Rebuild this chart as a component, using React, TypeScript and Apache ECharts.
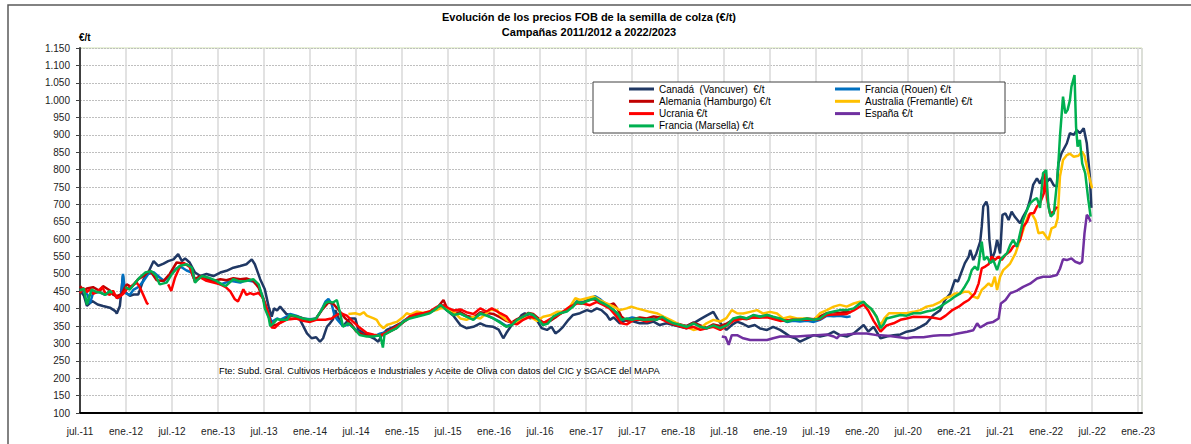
import React, { useEffect, useRef } from 'react';
import * as echarts from 'echarts';

// x value = months elapsed since July 2011 (0 = jul.-11, 138 = ene.-23)
const xTickMonths = { min: 0, max: 138.5, step: 6 };
const yTicks = { min: 100, max: 1150, step: 50 };

const titleLines = [
  'Evolución de los precios FOB de la semilla de colza (€/t)',
  'Campañas 2011/2012 a 2022/2023',
];
const unitLabel = '€/t';
const sourceNote =
  'Fte: Subd. Gral. Cultivos Herbáceos e Industriales y Aceite de Oliva con datos del CIC y SGACE del MAPA';

const canada: [number, number | null][] = [
  [0,452],[0.5,438],[0.9,408],[1.6,422],[2.3,412],[3,408],[3.9,403],[4.6,393],[4.8,386],[5.2,408],[5.6,495],[5.8,450],[6.5,437],[7,441],[7.6,441],[8.3,485],[8.9,504],[9.6,537],[10.2,523],[10.9,530],[11.5,537],[12.2,542],[12.8,557],[13.3,537],[13.7,545],[14.3,533],[15,504],[15.7,494],[16.5,500],[17.4,494],[18.3,504],[19.1,509],[20,518],[20.9,523],[21.7,528],[22.4,542],[22.8,528],[23.5,485],[24.1,456],[24.6,406],[25,377],[25.3,401],[25.7,395],[26.1,406],[26.9,385],[27.4,382],[28.2,377],[28.7,368],[29.6,329],[30.2,315],[30.8,318],[31.3,305],[31.7,315],[32.2,348],[32.6,358],[33,370],[33.3,396],[33.9,363],[34.3,350],[35.2,372],[35.9,372],[36.3,339],[36.7,334],[37.4,324],[38.3,315],[38.9,305],[39.3,322],[40,339],[40.9,348],[42.2,363],[43,377],[43.9,382],[45.2,387],[46.5,401],[47,411],[47.8,396],[48.7,380],[49.6,353],[50.4,344],[51.3,348],[52.2,358],[53,350],[53.9,348],[54.6,340],[55.2,315],[55.6,330],[56.3,353],[57,363],[57.6,382],[58,387],[58.7,372],[59.3,377],[60.2,344],[60.9,339],[61.5,348],[62,329],[62.4,335],[63,348],[63.7,368],[64.3,382],[65.2,387],[66.1,396],[66.7,392],[67.4,401],[68,396],[68.7,382],[69.1,368],[69.6,375],[70.4,358],[71.3,368],[72.2,363],[73,358],[74,358],[74.8,363],[75.6,353],[76.5,358],[77.4,353],[78.3,348],[79.1,344],[80,358],[80.9,370],[81.7,380],[82.6,391],[83.2,368],[83.9,348],[84.3,339],[85,353],[85.7,363],[86.5,356],[87.2,348],[88,353],[88.7,343],[89.6,339],[90.4,348],[91.3,339],[92,329],[92.6,320],[93.3,315],[93.9,305],[94.8,315],[95.7,324],[96.5,320],[97.4,324],[98.3,334],[99.1,324],[100,320],[100.9,329],[101.7,344],[102.2,353],[102.8,334],[103.5,348],[104.4,315],[105.2,320],[106.1,324],[107,326],[107.8,334],[108.7,338],[109.6,348],[110.4,358],[111.3,382],[112.2,396],[112.8,425],[113.5,444],[114.1,483],[114.5,478],[114.9,502],[115.4,531],[115.9,550],[116.1,569],[116.5,540],[116.9,559],[117.4,593],[117.6,636],[117.8,694],[118.2,708],[118.4,694],[118.6,598],[118.9,540],[119.3,564],[119.6,598],[120,559],[120.3,670],[120.7,674],[121.1,655],[121.5,679],[121.9,665],[122.6,646],[123,665],[123.5,684],[123.9,713],[124.3,756],[124.8,775],[125.2,760],[125.6,780],[126.1,765],[126.5,775],[127,755],[127.4,751],[127.6,818],[128,847],[128.7,876],[129.1,905],[129.6,900],[130,914],[130.4,905],[130.9,919],[131.3,876],[131.7,780],[131.9,690],
];

const franciaRouen: [number, number | null][] = [
  [0,455],[0.5,450],[1,440],[1.3,415],[1.7,445],[2.5,448],[3.3,440],[3.9,450],[4.4,440],[5,430],[5.4,445],[5.6,500],[5.9,445],[6.5,440],[7,455],[7.6,462],[8.3,480],[8.9,500],[9.6,505],[10.4,490],[11,480],[11.7,495],[12.5,515],[13.2,520],[13.9,510],[14.5,505],[15,480],[15.7,494],[16.5,485],[17.4,480],[18.3,470],[19,475],[19.8,480],[20.9,475],[21.7,482],[22.6,478],[23.2,470],[23.9,430],[24.6,385],[25,362],[25.7,372],[26.1,368],[27,378],[27.4,385],[28.2,380],[29.1,372],[30,370],[30.8,372],[31.5,396],[32,420],[32.4,428],[32.8,415],[33.2,380],[33.5,370],[34.3,350],[35.2,355],[35.7,344],[36.5,330],[37.4,322],[38.3,320],[39.1,328],[40,333],[40.4,336],[41.3,345],[42.2,365],[43,376],[43.9,378],[44.8,385],[45.6,388],[46.5,400],[47,412],[47.8,398],[48.7,384],[49.6,386],[50.4,378],[51.3,370],[52.2,385],[53,382],[53.9,372],[54.8,362],[55.6,350],[56.3,355],[57,368],[57.8,378],[58.5,385],[59.1,380],[59.8,368],[60.4,355],[61.3,365],[62,378],[62.6,388],[63.5,395],[64.3,408],[64.8,422],[65.4,418],[65.9,422],[66.5,428],[67.2,436],[67.8,428],[68.3,418],[69,405],[69.6,396],[70.2,378],[70.6,368],[71.3,370],[72,375],[72.6,372],[73.5,368],[74.3,370],[75.2,372],[75.9,378],[76.7,365],[77.4,360],[78.3,353],[79.1,350],[80,360],[80.9,350],[81.7,343],[82.6,352],[83.5,350],[84.3,355],[85.2,370],[86.1,375],[87,372],[87.8,380],[88.7,378],[89.6,382],[90.4,375],[91.3,370],[92.2,362],[93,365],[93.9,363],[94.8,365],[95.7,362],[96.5,368],[97.4,380],[98.3,378],[99.1,380],[100,376],[100.5,378],
];

const alemania: [number, number | null][] = [
  [0,465],[0.5,452],[0.9,458],[1.7,462],[2.6,451],[3,465],[3.5,458],[3.9,452],[4.3,441],[4.8,437],[5.4,441],[6.1,470],[6.7,462],[7.6,485],[8.3,494],[9.1,509],[9.6,495],[10,482],[10.9,480],[11.7,500],[12.6,533],[13.5,530],[14.3,523],[15,485],[15.7,494],[16.5,485],[17.4,480],[18.3,485],[19.1,482],[20,488],[20.9,485],[21.7,487],[22.6,480],[23.3,460],[23.9,427],[24.6,377],[25,350],[25.7,355],[26.5,365],[27.4,378],[28.2,378],[29.1,372],[30,365],[30.8,372],[31.5,395],[32.4,418],[33,415],[33.9,392],[34.6,372],[35.3,358],[36,335],[37,325],[38,322],[39,322],[40,330],[41.3,345],[42.2,362],[43,375],[43.9,380],[44.8,385],[45.6,390],[46.5,400],[47.4,425],[47.9,400],[48.7,388],[49.6,390],[50.4,380],[51.3,375],[52.2,390],[53,388],[53.9,385],[54.8,375],[55.6,365],[56.3,360],[57,370],[57.8,378],[58.5,388],[59.1,385],[59.8,372],[60.4,360],[61.3,365],[62,375],[62.6,385],[63.5,395],[64.3,410],[64.8,418],[65.4,415],[66,422],[66.7,428],[67.4,425],[68.3,418],[69,410],[69.6,415],[70.1,400],[70.6,378],[71.3,365],[72.2,370],[73,375],[73.9,372],[74.8,378],[75.6,375],[76.5,368],[77.4,360],[78.3,355],[79.1,350],[80,360],[80.9,352],[81.7,345],[82.6,355],[83.5,350],[84.4,358],[85.2,368],[86.1,372],[87,370],[87.8,375],[88.7,375],[89.6,380],[90.4,372],[91.3,368],[92.2,365],[93,370],[93.9,368],[94.8,372],[95.7,370],[96.5,378],[97.4,387],[98.3,390],[99.1,388],[100,392],[100.5,390],
];

const australia: [number, number | null][] = [
  [35,385],[35.9,387],[36.5,383],[37,390],[37.4,380],[38.3,372],[38.7,368],[39.1,353],[39.6,344],[40,353],[40.7,358],[41.3,362],[42.2,377],[42.6,387],[43.1,383],[43.9,392],[44.8,388],[45.6,392],[46.5,396],[47,401],[47.8,401],[48.7,392],[49.6,372],[50.4,368],[51.3,377],[52.2,372],[53.5,396],[54.4,396],[54.8,382],[55.6,368],[56.5,358],[57.4,368],[58.7,377],[59.6,365],[60.4,377],[61.3,381],[62.2,391],[63,391],[63.9,406],[64.6,430],[65.2,425],[66.1,430],[67,435],[67.8,425],[68.7,415],[69.6,406],[70.4,396],[71.3,401],[71.9,406],[72.6,401],[73.5,396],[74.3,391],[75.2,387],[76.1,377],[77,368],[78.3,353],[79.1,348],[80,339],[80.9,344],[81.7,358],[82.6,368],[83.5,363],[84.3,373],[85,396],[85.7,387],[86.5,386],[87.4,391],[88.3,396],[89.1,386],[90,391],[90.9,386],[91.7,372],[92.6,377],[93.5,372],[94.4,372],[95.7,368],[96.5,387],[97.4,396],[98.3,406],[99.1,411],[100,406],[100.9,415],[101.7,420],[102.2,418],[102.6,411],[103.5,391],[104.4,353],[104.9,372],[105.5,387],[106.1,387],[107,387],[107.8,387],[108.7,391],[109.6,396],[110.4,406],[111.3,410],[112.2,420],[112.8,430],[113.5,435],[114.1,444],[114.8,444],[115.4,449],[115.9,449],[116.5,435],[117.1,430],[117.6,454],[118.1,464],[118.5,473],[118.9,464],[119.3,492],[119.6,454],[120,492],[120.4,511],[120.9,521],[121.3,530],[122,559],[122.6,598],[123.3,646],[123.7,670],[124.1,674],[124.6,655],[125,617],[125.6,620],[126.3,598],[126.7,631],[127.2,636],[127.5,660],[127.8,780],[128.2,828],[128.7,842],[129.1,846],[129.6,837],[130.2,840],[130.7,852],[131,840],[131.3,809],[131.6,780],[132,746],
];

const ucrania: [number, number | null][] = [
  [0,445],[0.4,460],[0.9,448],[1.3,455],[1.7,443],[2.2,448],[2.9,462],[3.3,445],[3.9,440],[4.3,452],[4.8,430],[5.2,435],[5.6,442],[6.1,456],[6.7,465],[7.4,475],[7.8,462],[8.3,437],[8.7,417],[8.9,412],[10,null],
  [11.5,470],[11.9,451],[12.4,490],[13,520],[13.5,532],[14.3,520],[15,478],[15.7,490],[16.5,480],[17.4,475],[18.3,470],[19,462],[19.6,450],[20.2,427],[20.6,421],[21,440],[21.3,456],[21.7,440],[22.2,445],[22.6,441],[23.3,445],[23.9,430],[24.6,385],[25,346],[25.4,345],[26,358],[26.9,368],[27.4,370],[28.2,372],[29.1,365],[30,362],[30.8,368],[31.3,368],[32,368],[32.8,372],[33.5,382],[34,387],[34.8,380],[35.5,365],[36.5,345],[37.4,330],[38.3,325],[39.1,322],[40,332],[41,345],[42.2,362],[43,378],[43.9,385],[44.8,388],[45.6,392],[46.5,405],[47.4,410],[48.2,400],[48.7,395],[49.6,398],[50.4,390],[51.3,385],[52.2,401],[53,392],[53.7,401],[54.8,387],[55.6,378],[56.3,358],[57,355],[57.8,368],[58.7,377],[59.6,372],[60.4,358],[61.3,370],[62.6,385],[63.9,406],[64.8,415],[65.6,415],[66.5,410],[67.4,420],[68.3,410],[69.1,400],[70,377],[70.6,358],[71.3,355],[72.2,368],[73,368],[73.9,363],[74.8,368],[75.6,372],[76.5,363],[77.7,353],[79.1,344],[80,348],[80.9,339],[81.7,344],[82.6,348],[83.5,339],[84.3,350],[85.2,365],[86.5,372],[87.8,375],[89.6,375],[91.3,365],[93,368],[94.8,368],[96.5,370],[97.4,382],[98.3,383],[99.1,384],[100,385],[100.9,395],[101.7,406],[102.2,412],[102.8,395],[103.5,365],[104.4,334],[105.2,352],[106.1,358],[107,368],[107.8,372],[108.7,377],[109.6,376],[110.4,376],[111.3,374],[112.2,370],[112.9,380],[113.7,395],[114.6,406],[115.2,416],[115.9,425],[116.7,444],[117.2,473],[117.6,516],[118.1,522],[118.5,528],[118.9,550],[119.3,540],[119.8,550],[120.2,540],[120.7,555],[121.3,565],[121.7,579],[122.2,585],[122.6,598],[123,636],[123.5,650],[123.9,674],[124.4,675],[124.8,694],[125.2,704],[125.7,732],[125.9,790],[126.1,720],[126.5,674],[127,679],[127.4,694],
];

const espana: [number, number | null][] = [
  [83.7,320],[84.2,318],[84.6,296],[85,324],[85.7,324],[86.5,315],[87.4,310],[88.3,310],[89.6,310],[90.4,315],[91.3,320],[92.2,320],[93.5,320],[94.8,322],[96.1,324],[97.4,326],[98.3,320],[98.7,315],[99.1,324],[100,326],[101.3,329],[102.6,329],[103.9,324],[104.4,324],[105.3,322],[106.1,320],[107.8,315],[108.7,318],[110,318],[111.3,322],[112.2,324],[113.5,324],[114.3,328],[115.7,334],[116.5,338],[117,358],[117.4,346],[118.3,358],[119.1,362],[119.8,372],[120.1,415],[120.7,425],[121.3,444],[122.2,452],[123,463],[123.9,472],[124.8,487],[125.6,492],[126.5,492],[127.4,497],[127.8,515],[128.2,542],[128.7,540],[129.3,545],[129.8,535],[130.4,530],[130.7,535],[131,617],[131.3,670],[131.5,665],[131.8,650],
];

const franciaMarsella: [number, number | null][] = [
  [0,452],[0.5,458],[0.9,412],[1.3,440],[1.5,455],[2.2,448],[2.6,447],[3.3,440],[3.9,451],[4.2,445],[5,null],[5.9,462],[6.5,455],[7.2,475],[7.8,490],[8.5,504],[9.3,508],[9.9,495],[10.4,470],[11.3,475],[12,500],[12.6,515],[13,523],[13.9,528],[14.6,518],[15,475],[15.4,485],[15.9,494],[16.7,490],[17.8,480],[18.5,470],[19,465],[20,485],[20.9,478],[21.7,480],[22.6,485],[23.3,470],[23.9,427],[24.1,401],[24.6,375],[24.8,350],[25.3,360],[25.7,370],[26.1,368],[27,368],[27.4,382],[28.2,378],[29.1,372],[30,368],[30.8,372],[31.5,396],[32,416],[32.4,420],[33,418],[33.5,425],[33.9,390],[34.3,348],[35,358],[35.7,344],[36.5,324],[37.4,320],[38.3,320],[39.1,324],[39.4,300],[39.5,288],[39.7,325],[40.4,334],[41.3,344],[42.2,363],[43,372],[43.9,377],[44.8,382],[45.6,387],[46.5,401],[47,411],[47.8,396],[48.7,382],[49.6,386],[50.4,377],[51.3,368],[52.2,387],[53,380],[53.9,372],[54.8,360],[55.6,348],[56.3,353],[57,368],[57.8,377],[58.5,387],[59.1,382],[59.8,368],[60.4,353],[61,357],[61.7,377],[62.6,387],[63.5,392],[64.3,406],[64.8,420],[65.4,415],[65.9,420],[66.5,425],[67.2,430],[67.8,420],[68.3,415],[69,406],[69.6,396],[70.1,387],[70.6,368],[71.3,372],[72,368],[72.6,372],[73.5,368],[74.3,370],[75.2,368],[75.9,377],[76.5,368],[77.4,358],[78.3,353],[79.1,348],[80,358],[80.9,348],[81.7,344],[82.6,352],[83.5,344],[84.4,353],[85.2,372],[86.1,377],[87,372],[87.8,382],[88.7,377],[89.6,382],[90.4,377],[91.3,372],[92.2,363],[93,368],[93.9,368],[94.8,372],[95.7,368],[96.5,372],[97.4,387],[98.3,392],[99.1,396],[100,396],[100.9,401],[101.7,415],[102.2,420],[102.6,410],[103.2,400],[103.9,377],[104.4,344],[104.8,355],[105.2,372],[106.1,377],[107,382],[107.8,380],[108.7,387],[109.6,387],[110.4,392],[111.3,396],[112.2,406],[112.8,415],[113.5,425],[114.1,435],[114.8,444],[115.4,464],[115.9,483],[116.3,511],[116.7,521],[117.1,511],[117.6,593],[117.9,540],[118.3,550],[118.7,531],[119.1,540],[119.6,511],[120,540],[120.4,550],[120.9,560],[121.3,583],[121.7,598],[122.2,578],[122.6,617],[123,655],[123.5,684],[123.9,703],[124.4,713],[124.8,718],[125.2,690],[125.6,790],[126,799],[126.3,694],[126.6,665],[127,674],[127.4,760],[127.6,820],[127.8,895],[128.2,1010],[128.5,962],[128.8,972],[129.1,1000],[129.3,1039],[129.7,1072],[129.9,924],[130.1,866],[130.4,886],[130.7,818],[131.1,789],[131.5,713],[131.8,665],
];

const seriesDefs = [
  { name: 'Canadá  (Vancuver)  €/t', color: '#203864', data: canada },
  { name: 'Francia (Rouen) €/t', color: '#0070C0', data: franciaRouen },
  { name: 'Alemania (Hamburgo) €/t', color: '#C00000', data: alemania },
  { name: 'Australia (Fremantle) €/t', color: '#FFC000', data: australia },
  { name: 'Ucrania €/t', color: '#FF0000', data: ucrania },
  { name: 'España €/t', color: '#7030A0', data: espana },
  { name: 'Francia (Marsella) €/t', color: '#00B050', data: franciaMarsella },
];

const legendLeftColumn = ['Canadá  (Vancuver)  €/t', 'Alemania (Hamburgo) €/t', 'Ucrania €/t', 'Francia (Marsella) €/t'];
const legendRightColumn = ['Francia (Rouen) €/t', 'Australia (Fremantle) €/t', 'España €/t'];

const monthNames = ['ene.', 'feb.', 'mar.', 'abr.', 'may.', 'jun.', 'jul.', 'ago.', 'sep.', 'oct.', 'nov.', 'dic.'];

function monthLabel(m: number): string {
  if (Math.abs(m - Math.round(m)) > 1e-6 || Math.round(m) % 6 !== 0) return '';
  const total = 6 + Math.round(m);
  const year = 2011 + Math.floor(total / 12);
  const mon = total % 12;
  return monthNames[mon] + '-' + String(year % 100).padStart(2, '0');
}

function thousands(v: number): string {
  if (v >= 1000) {
    const t = Math.floor(v / 1000);
    const r = v - t * 1000;
    return t + '.' + String(r).padStart(3, '0');
  }
  return String(v);
}

const FONT = 'Liberation Sans, Arial, sans-serif';

export default function App() {
  const ref = useRef<HTMLDivElement>(null);
  useEffect(() => {
    document.body.style.margin = '0';
    const chart = echarts.init(ref.current!, undefined, { renderer: 'svg' });
    const legendCommon = {
      orient: 'vertical' as const,
      icon: 'rect',
      itemWidth: 25,
      itemHeight: 3,
      itemGap: 0.3,
      padding: 0,
      selectedMode: false,
      z: 20,
      textStyle: { fontFamily: FONT, fontSize: 10, color: '#000', lineHeight: 12 },
    };
    chart.setOption({
      animation: false,
      backgroundColor: '#fff',
      textStyle: { fontFamily: FONT },
      grid: {
        left: 80, right: 49, top: 48, bottom: 31,
        show: true, borderColor: '#d0e3b0', borderWidth: 1, backgroundColor: 'transparent',
      },
      xAxis: {
        type: 'value',
        min: xTickMonths.min,
        max: xTickMonths.max,
        interval: xTickMonths.step,
        axisLine: { show: true, lineStyle: { color: '#000', width: 2 }, onZero: false },
        axisTick: { show: false },
        axisLabel: {
          formatter: (v: number) => monthLabel(v),
          fontFamily: FONT, fontSize: 10, color: '#222', margin: 13,
          showMaxLabel: false,
        },
        splitLine: { show: true, lineStyle: { color: '#d9d9d9', width: 1.5 } },
      },
      yAxis: {
        type: 'value',
        min: yTicks.min,
        max: yTicks.max,
        interval: yTicks.step,
        axisLine: { show: true, lineStyle: { color: '#404040', width: 2 } },
        axisTick: { show: true, length: 4, lineStyle: { color: '#404040' } },
        axisLabel: { formatter: (v: number) => thousands(v), fontFamily: FONT, fontSize: 10, color: '#222', margin: 10 },
        splitLine: { show: true, lineStyle: { color: '#bfbfbf', width: 1, type: [2, 1] } },
      },
      legend: [
        { ...legendCommon, left: 629, top: 83, data: legendLeftColumn },
        { ...legendCommon, left: 835, top: 83, data: legendRightColumn },
      ],
      graphic: [
        { type: 'rect', shape: { x: 8, y: 5, width: 1200, height: 460 }, style: { fill: 'none', stroke: '#595959', lineWidth: 1.5 }, silent: true, z: -10 },
        { type: 'rect', shape: { x: 593, y: 82, width: 412, height: 51 }, style: { fill: '#fff', stroke: '#404040', lineWidth: 1 }, z: 3 },
        { type: 'text', x: 589, y: 17, style: { text: titleLines[0], font: `bold 11px ${FONT}`, fill: '#000', textAlign: 'center', textVerticalAlign: 'middle' } },
        { type: 'text', x: 589, y: 32, style: { text: titleLines[1], font: `bold 11px ${FONT}`, fill: '#000', textAlign: 'center', textVerticalAlign: 'middle' } },
        { type: 'text', x: 79, y: 37, style: { text: unitLabel, font: `bold 10px ${FONT}`, fill: '#000', textAlign: 'left', textVerticalAlign: 'middle' } },
        { type: 'text', x: 219, y: 371, style: { text: sourceNote, font: `9.3px ${FONT}`, fill: '#000', textAlign: 'left', textVerticalAlign: 'middle' }, z: 5 },
      ],
      series: seriesDefs.map((s) => ({
        name: s.name,
        type: 'line',
        data: s.data.map(([m, v]) => [m, v === null ? '-' : v]),
        showSymbol: false,
        symbol: 'none',
        connectNulls: false,
        color: s.color,
        lineStyle: { color: s.color, width: 2.5 },
        itemStyle: { color: s.color },
        z: 2,
      })),
    });
    return () => chart.dispose();
  }, []);
  return <div ref={ref} style={{ width: 1191, height: 444 }} />;
}
